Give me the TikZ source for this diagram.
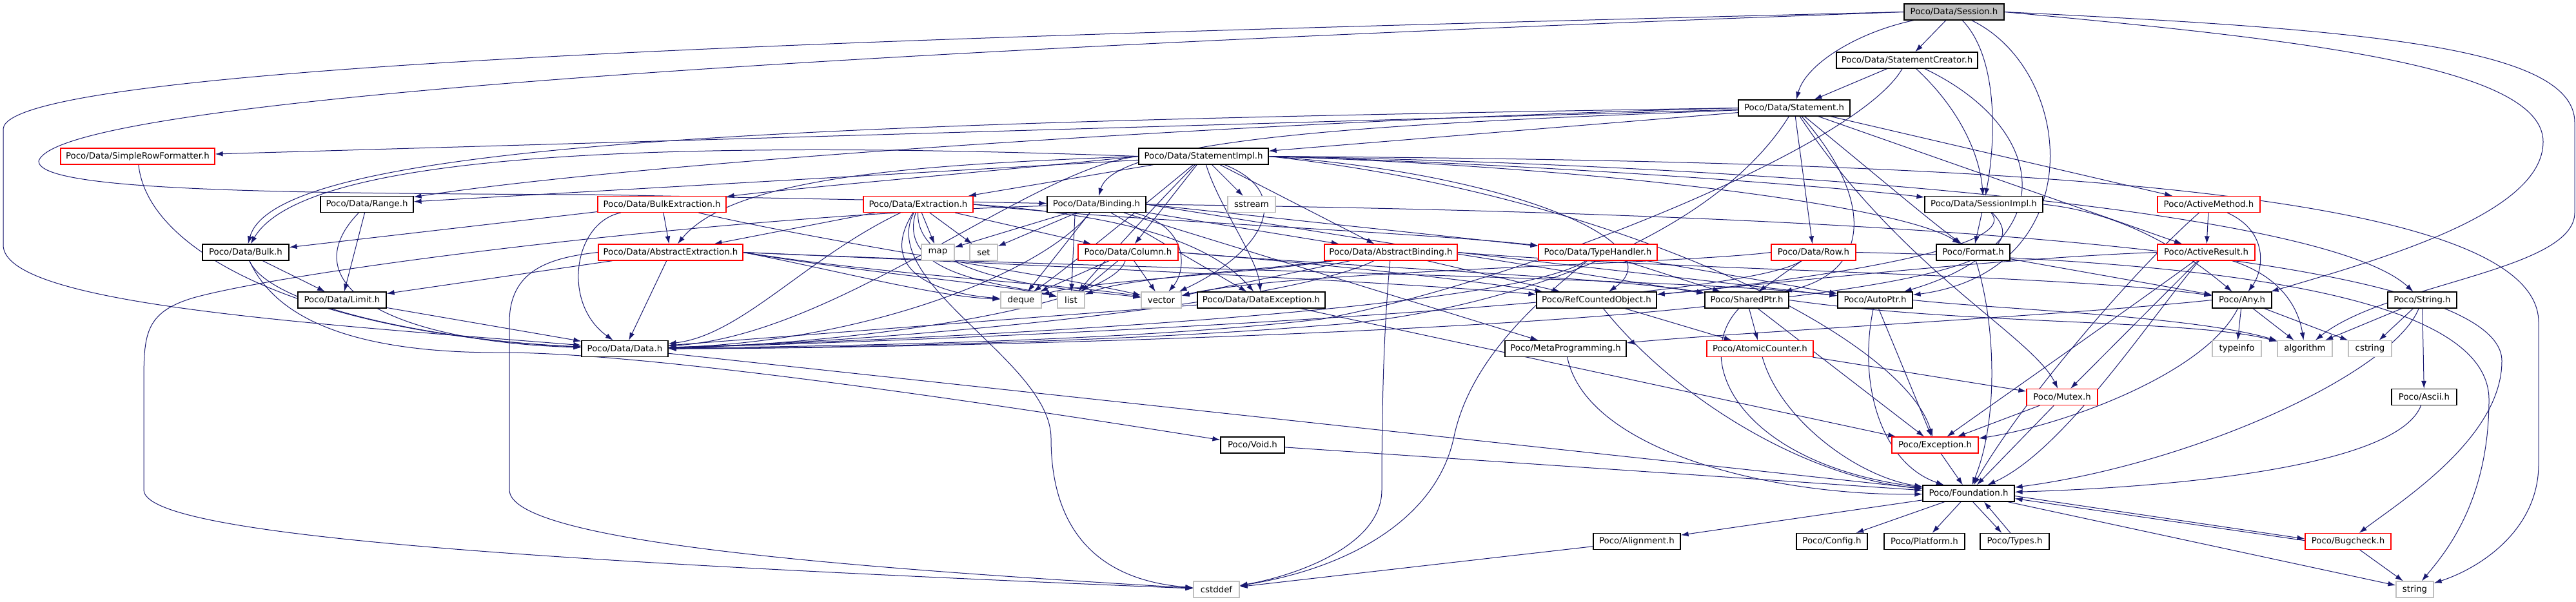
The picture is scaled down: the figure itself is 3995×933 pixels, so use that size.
\documentclass[tikz,border=0pt]{standalone}
\usepackage{fontspec}
\setmainfont{DejaVu Sans}
\usetikzlibrary{arrows.meta}
\definecolor{edgecol}{HTML}{191970}
\definecolor{redb}{HTML}{FF0000}
\definecolor{grayb}{HTML}{BFBFBF}
\definecolor{grayfill}{HTML}{BFBFBF}
\pgfdeclarelayer{bg}
\pgfsetlayers{bg,main}
\tikzset{
  nb/.style={draw=black, fill=white, line width=0.9pt, inner sep=0pt, minimum height=18.75pt, font=\fontsize{10}{12}\selectfont},
  rb/.style={nb, draw=redb},
  gb/.style={nb, draw=grayb},
  cur/.style={nb, fill=grayfill},
  edg/.style={draw=edgecol, line width=0.75pt, -{Latex[length=9pt,width=6pt]}},
}
\newcommand\mynode[6]{\node[#1, minimum width={(#4-#3)*0.75pt}] (#2) at ({(#3+#4)/2},#5) {#6};}
\begin{document}
\begin{tikzpicture}[x=0.75pt,y=-0.75pt]
\useasboundingbox (0,0) rectangle (3995,933);
\mynode{cur}{session}{2953}{3108}{18.5}{Poco/Data/Session.h}
\mynode{nb}{creator}{2848}{3067}{93.5}{Poco/Data/StatementCreator.h}
\mynode{nb}{statement}{2696}{2869}{167.5}{Poco/Data/Statement.h}
\mynode{rb}{srf}{94}{333}{242.5}{Poco/Data/SimpleRowFormatter.h}
\mynode{nb}{stimpl}{1766}{1967}{242.5}{Poco/Data/StatementImpl.h}
\mynode{nb}{range}{497}{641}{317}{Poco/Data/Range.h}
\mynode{rb}{bulkext}{927}{1126}{317}{Poco/Data/BulkExtraction.h}
\mynode{rb}{extraction}{1339}{1509}{317}{Poco/Data/Extraction.h}
\mynode{nb}{binding}{1624}{1777}{317}{Poco/Data/Binding.h}
\mynode{gb}{sstream}{1904}{1978}{317}{sstream}
\mynode{nb}{sessimpl}{2985}{3168}{317}{Poco/Data/SessionImpl.h}
\mynode{rb}{actmeth}{3346}{3505}{317}{Poco/ActiveMethod.h}
\mynode{nb}{bulk}{314}{448}{391.5}{Poco/Data/Bulk.h}
\mynode{rb}{absext}{928}{1152}{391.5}{Poco/Data/AbstractExtraction.h}
\mynode{gb}{map}{1429}{1480}{391.5}{map}
\mynode{gb}{set}{1504}{1547}{391.5}{set}
\mynode{rb}{column}{1672}{1827}{391.5}{Poco/Data/Column.h}
\mynode{rb}{absbind}{2054}{2260}{391.5}{Poco/Data/AbstractBinding.h}
\mynode{rb}{typeh}{2386}{2570}{391.5}{Poco/Data/TypeHandler.h}
\mynode{rb}{row}{2747}{2878}{391.5}{Poco/Data/Row.h}
\mynode{nb}{format}{3003}{3117}{391.5}{Poco/Format.h}
\mynode{rb}{actres}{3346}{3497}{391.5}{Poco/ActiveResult.h}
\mynode{nb}{limit}{462}{599}{465.5}{Poco/Data/Limit.h}
\mynode{gb}{deque}{1552}{1615}{465.5}{deque}
\mynode{gb}{list}{1640}{1682}{465.5}{list}
\mynode{gb}{vector}{1770}{1832}{465.5}{vector}
\mynode{nb}{dataexc}{1857}{2055}{465.5}{Poco/Data/DataException.h}
\mynode{nb}{refc}{2383}{2569}{465.5}{Poco/RefCountedObject.h}
\mynode{nb}{sptr}{2644}{2774}{465.5}{Poco/SharedPtr.h}
\mynode{nb}{aptr}{2850}{2966}{465.5}{Poco/AutoPtr.h}
\mynode{nb}{any}{3431}{3523}{465.5}{Poco/Any.h}
\mynode{nb}{pstring}{3703}{3810}{465.5}{Poco/String.h}
\mynode{nb}{data}{902}{1036}{541}{Poco/Data/Data.h}
\mynode{nb}{meta}{2334}{2522}{541}{Poco/MetaProgramming.h}
\mynode{rb}{atomic}{2647}{2812}{541}{Poco/AtomicCounter.h}
\mynode{gb}{typeinfo}{3431}{3507}{541}{typeinfo}
\mynode{gb}{algorithm}{3532}{3617}{541}{algorithm}
\mynode{gb}{cstring}{3642}{3709}{541}{cstring}
\mynode{rb}{mutex}{3143}{3253}{616}{Poco/Mutex.h}
\mynode{nb}{ascii}{3709}{3810}{616}{Poco/Ascii.h}
\mynode{nb}{void}{1893}{1992}{690.5}{Poco/Void.h}
\mynode{rb}{exc}{2934}{3068}{690.5}{Poco/Exception.h}
\mynode{nb}{found}{2982}{3124}{765.5}{Poco/Foundation.h}
\mynode{nb}{align}{2471}{2606}{840}{Poco/Alignment.h}
\mynode{nb}{config}{2786}{2896}{840}{Poco/Config.h}
\mynode{nb}{platform}{2922}{3047}{840}{Poco/Platform.h}
\mynode{nb}{types}{3071}{3178}{840}{Poco/Types.h}
\mynode{rb}{bugcheck}{3575}{3708}{840}{Poco/Bugcheck.h}
\mynode{gb}{cstddef}{1851}{1922}{914.5}{cstddef}
\mynode{gb}{string}{3716}{3774}{914.5}{string}

\begin{pgfonlayer}{bg}
% Session.h
\draw[edg] (session) -- (creator);
\draw[edg] (session) .. controls (2880,50) and (2800,100) .. (statement);
\draw[edg] (session) .. controls (3100,90) and (3095,220) .. (sessimpl);
\draw[edg] (session.west) .. controls (1500,55) and (10,95) .. (5,200) -- (5,380) .. controls (5,470) and (450,500) .. (data);
\draw[edg] (session.west) .. controls (1400,75) and (90,150) .. (60,250) .. controls (60,295) and (400,300) .. (925,302) -- (binding);
\draw[edg] (session) .. controls (3220,110) and (3245,420) .. (aptr);
\draw[edg] (session.east) .. controls (3550,60) and (3944,100) .. (3944,220) .. controls (3944,330) and (3700,400) .. (any);
\draw[edg] (session.east) .. controls (3650,45) and (3993,70) .. (3993,190) -- (3993,330) .. controls (3993,420) and (3700,440) .. (algorithm);
% StatementCreator.h
\draw[edg] (creator) -- (statement);
\draw[edg] (creator) .. controls (3040,170) and (3070,240) .. (sessimpl);
\draw[edg] (creator) .. controls (3180,200) and (3200,380) .. (aptr);
\draw[edg] (creator) .. controls (2880,230) and (2350,440) .. (2050,495) .. controls (1750,530) and (1300,537) .. (data);
% Statement.h
\draw[edg] (statement) -- (stimpl);
\draw[edg] (statement) -- (srf);
\draw[edg] (statement.west) .. controls (2000,185) and (1000,250) .. (range);
\draw[edg] (statement.west) .. controls (1300,190) and (430,215) .. (bulk);
\draw[edg] (statement) .. controls (2650,380) and (2300,490) .. (2050,505) .. controls (1750,530) and (1300,540) .. (data);
\draw[edg] (statement) .. controls (2200,190) and (1730,210) .. (binding);
\draw[edg] (statement) -- (row);
\draw[edg] (statement) .. controls (2900,300) and (2910,420) .. (sptr);
\draw[edg] (statement) .. controls (2950,420) and (3150,520) .. (mutex);
\draw[edg] (statement) -- (actmeth);
\draw[edg] (statement) -- (actres);
\draw[edg] (statement) .. controls (2920,280) and (2990,340) .. (format);
% StatementImpl.h
\draw[edg] (stimpl.west) .. controls (1600,260) and (1300,520) .. (data);
\draw[edg] (stimpl) -- (absbind);
\draw[edg] (stimpl.west) .. controls (1450,255) and (1140,270) .. (absext);
\draw[edg] (stimpl) -- (range);
\draw[edg] (stimpl.west) .. controls (1000,215) and (470,240) .. (bulk);
\draw[edg] (stimpl) -- (column);
\draw[edg] (stimpl) -- (extraction);
\draw[edg] (stimpl.west) .. controls (1550,265) and (1250,290) .. (bulkext);
\draw[edg] (stimpl.east) .. controls (2400,255) and (2850,290) .. (sessimpl);
\draw[edg] (stimpl.east) .. controls (2350,270) and (2600,380) .. (refc);
\draw[edg] (stimpl.east) .. controls (2700,255) and (3600,320) .. (pstring);
\draw[edg] (stimpl.east) .. controls (2500,260) and (2950,320) .. (format);
\draw[edg] (stimpl.east) .. controls (2500,300) and (2950,520) .. (exc);
\draw[edg] (stimpl) .. controls (2010,300) and (1960,390) .. (vector);
\draw[edg] (stimpl) .. controls (1890,320) and (1950,400) .. (dataexc);
\draw[edg] (stimpl) -- (sstream);
\draw[edg] (stimpl.east) .. controls (3000,250) and (3937,280) .. (3937,500) -- (3937,720) .. controls (3937,820) and (3850,880) .. (string);
\draw[edg] (stimpl) .. controls (1780,330) and (1700,420) .. (list);
\draw[edg] (stimpl) .. controls (1760,330) and (1650,420) .. (deque);
% Binding.h
\draw[edg] (binding) -- (absbind);
\draw[edg] (binding) -- (dataexc);
\draw[edg] (binding.east) -- (typeh);
\draw[edg] (binding.east) -- (sptr);
\draw[edg] (binding) -- (meta);
\draw[edg] (binding) .. controls (1845,350) and (1840,420) .. (vector);
\draw[edg] ([xshift=-25pt]binding.south) -- (list);
\draw[edg] (binding) -- (deque);
\draw[edg] (binding) -- (set);
\draw[edg] (binding) -- (map);
\draw[edg] (binding) .. controls (1620,420) and (1350,530) .. (data);
\draw[edg] (binding.east) .. controls (2800,330) and (3880,380) .. (3880,560) .. controls (3880,680) and (3720,780) .. (bugcheck);
\draw[edg] (binding) .. controls (1100,335) and (450,420) .. (300,462) .. controls (223,485) and (223,520) .. (223,600) -- (223,760) .. controls (223,830) and (800,870) .. (cstddef);
% Extraction.h
\draw[edg] (extraction) -- (absext);
\draw[edg] (extraction) -- (column);
\draw[edg] (extraction) -- (map);
\draw[edg] (extraction) -- (set);
\draw[edg] (extraction) .. controls (1360,420) and (1450,455) .. (deque);
\draw[edg] (extraction) .. controls (1390,430) and (1560,440) .. (list);
\draw[edg] (extraction) .. controls (1420,440) and (1680,450) .. (vector);
\draw[edg] (extraction.east) .. controls (1760,335) and (1880,380) .. (dataexc);
\draw[edg] (extraction.east) .. controls (1700,340) and (2200,360) .. (typeh);
\draw[edg] (extraction) .. controls (1250,400) and (1150,520) .. (data);
\draw[edg] (extraction) .. controls (1360,440) and (1630,560) .. (1630,680) .. controls (1630,820) and (1700,900) .. (cstddef);
% BulkExtraction.h
\draw[edg] (bulkext) -- (absext);
\draw[edg] (bulkext) -- (bulk);
\draw[edg] (bulkext) .. controls (1300,380) and (1650,430) .. (vector);
\draw[edg] (bulkext) .. controls (890,345) and (870,470) .. (data);
% AbstractExtraction.h
\draw[edg] (absext) -- (limit);
\draw[edg] (absext) -- (data);
\draw[edg] (absext.east) .. controls (1700,415) and (2200,440) .. (refc);
\draw[edg] (absext.east) .. controls (1800,420) and (2600,430) .. (aptr);
\draw[edg] (absext.east) .. controls (1300,420) and (1450,460) .. (deque);
\draw[edg] (absext.east) .. controls (1350,425) and (1550,440) .. (list);
\draw[edg] (absext.east) .. controls (1400,430) and (1650,440) .. (vector);
\draw[edg] (absext.west) .. controls (850,400) and (790,420) .. (790,500) -- (790,760) .. controls (790,840) and (1300,880) .. (cstddef);
% Column.h
\draw[edg] (column) -- (deque);
\draw[edg] (column) -- (list);
\draw[edg] (column) -- (vector);
\draw[edg] (column.east) .. controls (2100,415) and (2500,430) .. (sptr);
\draw[edg] (column.east) .. controls (2000,405) and (2250,430) .. (refc);
\draw[edg] (column) .. controls (1720,480) and (1300,535) .. (data);
% AbstractBinding.h
\draw[edg] (absbind) -- (refc);
\draw[edg] (absbind.east) -- (aptr);
\draw[edg] (absbind.east) .. controls (2600,420) and (3200,425) .. (any);
\draw[edg] (absbind) -- (vector);
\draw[edg] (absbind) .. controls (1950,420) and (1750,430) .. (list);
\draw[edg] (absbind) .. controls (1930,425) and (1700,435) .. (deque);
\draw[edg] (absbind) .. controls (2000,470) and (1400,530) .. (data);
\draw[edg] (absbind) .. controls (2145,520) and (2143,650) .. (2143,760) .. controls (2143,850) and (2000,895) .. (cstddef);
% TypeHandler.h
\draw[edg] (typeh) -- (sptr);
\draw[edg] (typeh) -- (aptr);
\draw[edg] (typeh) .. controls (2350,480) and (1500,525) .. (data);
\draw[edg] (typeh) .. controls (2380,470) and (2280,560) .. (2255,677) .. controls (2230,800) and (2100,880) .. (cstddef);
% Row.h
\draw[edg] (row) -- (sptr);
\draw[edg] (row.west) .. controls (2600,410) and (2000,420) .. (vector);
\draw[edg] (row) .. controls (2700,470) and (1600,525) .. (data);
\draw[edg] (row.east) .. controls (3500,405) and (3860,470) .. (3860,620) .. controls (3860,780) and (3790,860) .. (string);
% SessionImpl.h
\draw[edg] (sessimpl) -- (format);
\draw[edg] (sessimpl) .. controls (3140,390) and (2750,440) .. (refc);
\draw[edg] (sessimpl.east) .. controls (3300,330) and (3400,400) .. (any);
\draw[edg] (sessimpl) .. controls (3160,400) and (3000,440) .. (2600,480) .. controls (2200,520) and (1400,541) .. (data);
% ActiveMethod.h / ActiveResult.h
\draw[edg] (actmeth) -- (actres);
\draw[edg] (actmeth) .. controls (3520,360) and (3510,420) .. (any);
\draw[edg] (actmeth) .. controls (3330,400) and (3150,600) .. (found);
\draw[edg] (actres) -- (mutex);
\draw[edg] (actres) .. controls (3540,430) and (3565,480) .. (algorithm);
\draw[edg] (actres.west) .. controls (3100,400) and (2700,445) .. (refc);
\draw[edg] (actres) .. controls (3300,480) and (3100,620) .. (exc);
\draw[edg] (actres) .. controls (3330,500) and (3200,700) .. (found);
% Format.h
\draw[edg] (format) -- (any);
\draw[edg] (format) .. controls (3095,500) and (3100,650) .. (found);
% RefCountedObject, SharedPtr, AutoPtr
\draw[edg] (refc) -- (atomic);
\draw[edg] (refc) .. controls (2600,620) and (2800,740) .. (found);
\draw[edg] (sptr) -- (atomic);
\draw[edg] (sptr) -- (exc);
\draw[edg] (sptr.east) .. controls (3050,505) and (3400,495) .. (algorithm);
\draw[edg] (sptr) .. controls (2620,560) and (2700,720) .. (found);
\draw[edg] (aptr) -- (exc);
\draw[edg] (aptr.east) .. controls (3100,480) and (3400,490) .. (algorithm);
\draw[edg] (aptr) .. controls (2880,600) and (2920,720) .. (found);
% Any.h
\draw[edg] (any) -- (typeinfo);
\draw[edg] (any) -- (algorithm);
\draw[edg] (any) -- (cstring);
\draw[edg] (any.west) .. controls (3200,490) and (2700,515) .. (meta);
\draw[edg] (any) .. controls (3420,580) and (3200,660) .. (exc);
% String.h
\draw[edg] (pstring) -- (ascii);
\draw[edg] (pstring) -- (cstring);
\draw[edg] (pstring) -- (algorithm);
\draw[edg] (pstring) .. controls (3710,580) and (3400,720) .. (found);
\draw[edg] (ascii) .. controls (3720,720) and (3400,755) .. (found);
% lower levels
\draw[edg] (atomic) -- (mutex);
\draw[edg] (atomic) .. controls (2760,650) and (2880,740) .. (found);
\draw[edg] (meta) .. controls (2460,700) and (2750,770) .. (found);
\draw[edg] (mutex) -- (exc);
\draw[edg] (mutex) -- (found);
\draw[edg] (exc) -- (found);
\draw[edg] (void) -- (found);
\draw[edg] (data) -- (found);
\draw[edg] (dataexc) -- (data);
\draw[edg] (dataexc) -- (exc);
\draw[edg] (range) -- (limit);
\draw[edg] (range) .. controls (450,440) and (600,530) .. (data);
\draw[edg] (bulk) -- (limit);
\draw[edg] (bulk) .. controls (420,480) and (700,530) .. (data);
\draw[edg] (bulk) .. controls (430,500) and (560,548) .. (780,547) .. controls (1000,547) and (1500,620) .. (void);
\draw[edg] (limit) -- (data);
\draw[edg] (srf) .. controls (230,400) and (500,520) .. (data);
\draw[edg] (found) -- (align);
\draw[edg] (found) -- (config);
\draw[edg] (found) -- (platform);
\draw[edg] ([xshift=5pt]found.south) -- ([xshift=-15pt]types.north);
\draw[edg] ([xshift=-5pt]types.north) -- ([xshift=18pt]found.south);
\draw[edg] ([yshift=-3pt]found.east) -- ([yshift=3pt]bugcheck.west);
\draw[edg] ([yshift=1pt]bugcheck.west) -- ([yshift=-6pt]found.east);
\draw[edg] (found) -- (string);
\draw[edg] (bugcheck) -- (string);
\draw[edg] (align) -- (cstddef);
\end{pgfonlayer}
\end{tikzpicture}
\end{document}
